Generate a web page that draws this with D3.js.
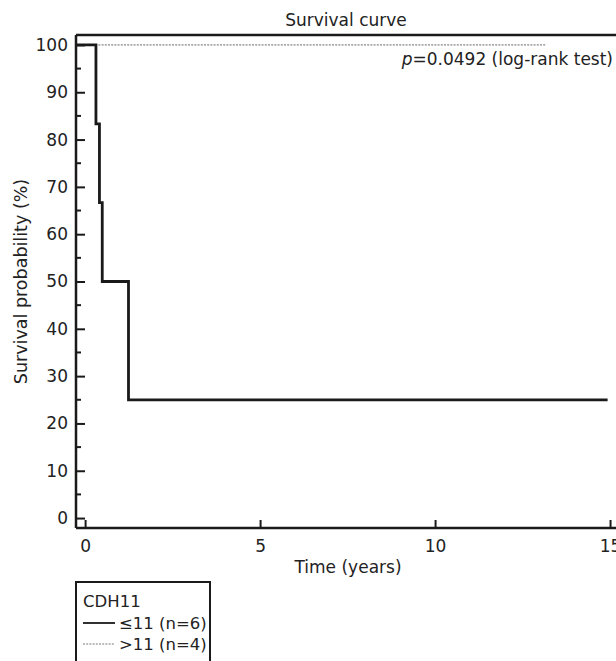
<!DOCTYPE html>
<html><head><meta charset="utf-8">
<script src="https://cdn.jsdelivr.net/npm/d3@7"></script>
<style>
html,body{margin:0;padding:0;background:#fff;}
svg{display:block;}
text{font-family:"DejaVu Sans","Liberation Sans",sans-serif;fill:#222;}
</style></head>
<body>
<svg id="chart" width="616" height="661"></svg>
<script>
// ---- data ----
const title = "Survival curve";
const xLabel = "Time (years)";
const yLabel = "Survival probability (%)";
const pText = "=0.0492 (log-rank test)";
const legendTitle = "CDH11";
const groupNames = ["\u226411 (n=6)", ">11 (n=4)"];
// group 1 (≤11): event times (years) and survival (%)
const lowTimes = [0, 0.31, 0.41, 0.49, 1.24, 14.93];
const lowSurv  = [100, 83.33, 66.67, 50, 25, 25];
// group 2 (>11): no events
const highTimes = [0, 13.17];
const highSurv  = [100, 100];
const xTicks = [0, 5, 10, 15];
const yTicks = [0, 10, 20, 30, 40, 50, 60, 70, 80, 90, 100];
const yMinor = [5, 15, 25, 35, 45, 55, 65, 75, 85, 95];
const xDomain = [-0.26, 15.17];
const yDomain = [-2.1, 102.1];

// ---- layout ----
const svg = d3.select("#chart");
const L = 76, R = 616, T = 35, B = 528;
const x = d3.scaleLinear().domain(xDomain).range([L, R]);
const y = d3.scaleLinear().domain(yDomain).range([B, T]);
const FS = 17;

// title
svg.append("text").attr("x", (L + R) / 2).attr("y", 26).attr("text-anchor", "middle")
  .style("font-size", FS + "px").text(title);

// top frame line
svg.append("line").attr("x1", L).attr("x2", R).attr("y1", T).attr("y2", T)
  .attr("stroke", "#1a1a1a").attr("stroke-width", 2.5);

// curves
const line = d3.line().x(d => x(d[0])).y(d => y(d[1])).curve(d3.curveStepAfter);
const lowPts = lowTimes.map((t, i) => [i === 0 ? xDomain[0] : t, lowSurv[i]]);
const highPts = highTimes.map((t, i) => [i === 0 ? xDomain[0] : t, highSurv[i]]);

svg.append("path").datum(highPts).attr("d", line).attr("fill", "none")
  .attr("stroke", "#666").attr("stroke-width", 1).attr("stroke-dasharray", "2,1.2");
svg.append("path").datum(lowPts).attr("d", line).attr("fill", "none")
  .attr("stroke", "#1a1a1a").attr("stroke-width", 2.8);

// y axis
const yAxis = d3.axisLeft(y).tickValues(yTicks).tickSizeInner(-9).tickSizeOuter(0).tickPadding(8);
const gy = svg.append("g").attr("transform", `translate(${L},0)`).call(yAxis);
gy.selectAll("text").style("font-size", FS + "px").attr("fill", "#222");
gy.select(".domain").attr("stroke", "#1a1a1a").attr("stroke-width", 2.5)
  .attr("d", `M0,${T}V${B}`);
gy.selectAll(".tick line").attr("stroke", "#1a1a1a").attr("stroke-width", 2);
gy.selectAll(".minor").data(yMinor).enter().append("line").attr("class", "minor")
  .attr("x1", 0).attr("x2", 5).attr("y1", d => y(d)).attr("y2", d => y(d))
  .attr("stroke", "#1a1a1a").attr("stroke-width", 2);

// x axis
const xAxis = d3.axisBottom(x).tickValues(xTicks).tickSizeInner(-8).tickSizeOuter(0).tickPadding(12);
const gx = svg.append("g").attr("transform", `translate(0,${B})`).call(xAxis);
gx.selectAll("text").style("font-size", FS + "px").attr("fill", "#222");
gx.select(".domain").attr("stroke", "#1a1a1a").attr("stroke-width", 2.5)
  .attr("d", `M${L},0H${R}`);
gx.selectAll(".tick line").attr("stroke", "#1a1a1a").attr("stroke-width", 2);

// axis labels
svg.append("text").attr("x", (L + R) / 2 + 2).attr("y", 573).attr("text-anchor", "middle")
  .style("font-size", FS + "px").text(xLabel);
svg.append("text").attr("transform", `translate(27,${(y(0) + y(100)) / 2}) rotate(-90)`)
  .attr("text-anchor", "middle").style("font-size", "17.5px").text(yLabel);

// p-value
const pt = svg.append("text").attr("x", 613).attr("y", 65).attr("text-anchor", "end")
  .style("font-size", FS + "px");
pt.append("tspan").style("font-style", "italic").text("p");
pt.append("tspan").text(pText);

// legend
const lg = svg.append("g");
lg.append("rect").attr("x", 76).attr("y", 582).attr("width", 134).attr("height", 100)
  .attr("fill", "#fff").attr("stroke", "#1a1a1a").attr("stroke-width", 2);
lg.append("text").attr("x", 83).attr("y", 607).style("font-size", "16.5px").text(legendTitle);
const styles = [{c: "#1a1a1a", w: 1.8, da: null}, {c: "#777", w: 1, da: "2,1.2"}];
groupNames.forEach((g, i) => {
  const yy = 623 + i * 21;
  lg.append("line").attr("x1", 83).attr("x2", 115).attr("y1", yy).attr("y2", yy)
    .attr("stroke", styles[i].c).attr("stroke-width", styles[i].w)
    .attr("stroke-dasharray", styles[i].da);
  lg.append("text").attr("x", 119).attr("y", yy + 6).style("font-size", "16.5px").text(g);
});
</script>
</body></html>
